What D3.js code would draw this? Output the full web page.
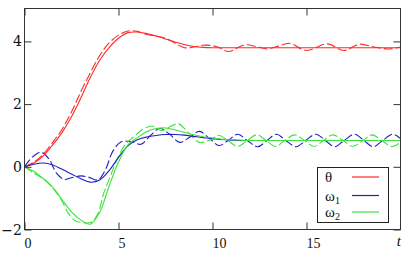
<!DOCTYPE html>
<html>
<head>
<meta charset="utf-8">
<script src="https://cdn.jsdelivr.net/npm/d3@7"></script>
<style>
  body { margin: 0; background: #fff; }
  svg { display: block; }
</style>
</head>
<body>
<div id="chart"></div>
<script>
// --- data ---
const xTicks = [0, 5, 10, 15];
const yTicks = [-2, 0, 2, 4];
const seriesNames = ["θ", "ω1", "ω2"];
const seriesColors = ["#ff2a2a", "#1e1ec8", "#3ee23e"];

// solid curves [t, value]
const thetaSolid = [[0,0],[0.5,0.12],[1,0.35],[1.5,0.7],[2,1.1],[2.5,1.6],[3,2.2],[3.5,2.85],[4,3.4],[4.5,3.8],[5,4.1],[5.5,4.28],[6,4.3],[6.5,4.25],[7,4.17],[7.5,4.08],[8,3.98],[8.5,3.9],[9,3.84],[9.5,3.81],[10,3.8],[12,3.8],[14,3.8],[16,3.8],[18,3.8],[20,3.8]];
const omega1Solid = [[0,0],[0.5,0.08],[1,0.12],[1.5,0.06],[2,-0.08],[2.5,-0.23],[3,-0.38],[3.5,-0.49],[4,-0.42],[4.5,-0.12],[5,0.3],[5.5,0.67],[6,0.86],[6.5,0.95],[7,1.0],[7.5,1.03],[8,1.03],[8.5,1.01],[9,0.97],[9.5,0.93],[10,0.9],[10.5,0.87],[11,0.85],[11.5,0.84],[14,0.84],[17,0.84],[20,0.84]];
const omega2Solid = [[0,0],[0.5,-0.15],[1,-0.38],[1.5,-0.65],[2,-1.05],[2.5,-1.44],[3,-1.7],[3.5,-1.83],[4,-1.45],[4.5,-0.62],[5,0.15],[5.5,0.7],[6,0.93],[6.5,1.12],[7,1.22],[7.5,1.24],[8,1.18],[8.5,1.1],[9,1.02],[9.5,0.96],[10,0.92],[10.5,0.88],[11,0.86],[11.5,0.85],[12,0.84],[16,0.84],[20,0.84]];

// dashed curves [t, value]
const thetaDashed = [[0,0],[0.5,0.15],[1,0.4],[1.5,0.78],[2,1.2],[2.5,1.75],[3,2.4],[3.5,3.0],[4,3.55],[4.5,3.95],[5,4.2],[5.5,4.33],[6,4.32],[6.5,4.22],[7,4.17],[7.5,4.1],[8,3.95],[8.5,3.8],[9,3.82],[9.5,3.88],[10.2,3.84],[10.85,3.68],[11.7,3.89],[12.3,3.84],[12.9,3.76],[13.5,3.85],[14.1,3.94],[15,3.71],[16.1,3.92],[17,3.71],[17.8,3.91],[18.6,3.82],[19.4,3.76],[20,3.82]];
const omega1Dashed = [[0,0],[0.4,0.3],[0.9,0.46],[1.3,0.25],[1.7,-0.2],[2.1,-0.4],[2.5,-0.35],[3,-0.29],[3.4,-0.33],[3.9,-0.42],[4.3,-0.1],[4.7,0.5],[5.15,0.8],[5.7,0.8],[6.2,0.72],[6.7,1.0],[7.2,1.22],[7.7,1.05],[8.25,0.78],[8.8,0.95],[9.3,1.13],[9.85,0.9],[10.35,0.68],[10.85,0.85],[11.35,1.04],[11.85,0.84],[12.4,0.64],[12.9,0.84],[13.4,1.04],[13.9,0.84],[14.45,0.64],[14.95,0.84],[15.5,1.04],[16,0.84],[16.5,0.64],[17,0.84],[17.55,1.04],[18.05,0.84],[18.55,0.64],[19.05,0.84],[19.6,1.04],[20,0.9]];
const omega2Dashed = [[0,0],[0.5,-0.2],[1.1,-0.42],[1.6,-0.75],[2,-1.1],[2.35,-1.5],[2.7,-1.72],[3.1,-1.78],[3.55,-1.77],[3.9,-1.5],[4.2,-0.87],[4.5,-0.4],[4.9,0.2],[5.35,0.71],[5.8,0.95],[6.3,1.2],[6.8,1.3],[7.3,1.15],[7.8,1.3],[8.2,1.37],[8.7,1.1],[9.3,0.78],[9.85,0.85],[10.35,1.0],[10.85,0.82],[11.35,0.65],[11.85,0.84],[12.35,1.02],[12.85,0.84],[13.35,0.65],[13.85,0.84],[14.35,1.02],[14.9,0.84],[15.4,0.65],[15.9,0.84],[16.4,1.02],[16.95,0.84],[17.45,0.65],[18,0.84],[18.5,1.02],[19,0.84],[19.55,0.65],[20,0.78]];

const W = 412, H = 256;
const plotLeft = 24.5, plotRight = 400.5, plotTop = 8.5, plotBottom = 229.5;
const fontA = "Liberation Serif";
const fontB = "DejaVu Serif";

const svg = d3.select("#chart").append("svg")
    .attr("width", W)
    .attr("height", H);

svg.append("rect").attr("width", W).attr("height", H).attr("fill", "#fff");

const x = d3.scaleLinear().domain([0, 20]).range([plotLeft, plotRight]);
const y = d3.scaleLinear().domain([-2, 5.05]).range([plotBottom, plotTop]);

svg.append("defs").append("clipPath").attr("id", "plot")
    .append("rect")
    .attr("x", plotLeft).attr("y", plotTop)
    .attr("width", plotRight - plotLeft).attr("height", plotBottom - plotTop);

const line = d3.line()
    .x(d => x(d[0]))
    .y(d => y(d[1]))
    .curve(d3.curveCatmullRom.alpha(0.5));

const g = svg.append("g").attr("clip-path", "url(#plot)");

const curves = [
    { data: thetaDashed, color: seriesColors[0], dashed: true },
    { data: omega1Dashed, color: seriesColors[1], dashed: true },
    { data: omega2Dashed, color: seriesColors[2], dashed: true },
    { data: thetaSolid, color: seriesColors[0], dashed: false },
    { data: omega1Solid, color: seriesColors[1], dashed: false },
    { data: omega2Solid, color: seriesColors[2], dashed: false }
];

g.selectAll("path.curve")
    .data(curves)
    .join("path")
    .attr("class", "curve")
    .attr("d", d => line(d.data))
    .attr("fill", "none")
    .attr("stroke", d => d.color)
    .attr("stroke-width", 1.1)
    .attr("stroke-dasharray", d => d.dashed ? "9,3" : null);

// frame
svg.append("rect")
    .attr("x", plotLeft).attr("y", plotTop)
    .attr("width", plotRight - plotLeft).attr("height", plotBottom - plotTop)
    .attr("fill", "none")
    .attr("stroke", "#333")
    .attr("stroke-width", 1);

// inner ticks on all four sides
const tickLen = 7;
const axisBottom = d3.axisBottom(x).tickValues(xTicks).tickSize(tickLen).tickFormat("");
const axisTop = d3.axisTop(x).tickValues(xTicks).tickSize(tickLen).tickFormat("");
const axisLeft = d3.axisLeft(y).tickValues(yTicks).tickSize(tickLen).tickFormat("");
const axisRight = d3.axisRight(y).tickValues(yTicks).tickSize(tickLen).tickFormat("");

svg.append("g").attr("transform", `translate(0,${plotBottom - tickLen})`).call(axisBottom);
svg.append("g").attr("transform", `translate(0,${plotTop + tickLen})`).call(axisTop);
svg.append("g").attr("transform", `translate(${plotLeft + tickLen},0)`).call(axisLeft);
svg.append("g").attr("transform", `translate(${plotRight - tickLen},0)`).call(axisRight);
svg.selectAll(".domain").remove();
svg.selectAll(".tick line").attr("stroke", "#333");

// tick labels
svg.append("g").selectAll("text")
    .data(xTicks)
    .join("text")
    .attr("x", d => x(d))
    .attr("y", 248)
    .style("font-family", fontA)
    .attr("font-size", 14)
    .attr("fill", "#111")
    .text(d => d);

svg.append("text")
    .attr("x", 401)
    .attr("y", 246)
    .attr("text-anchor", "end")
    .style("font-family", fontA)
    .attr("font-size", 15)
    .attr("font-style", "italic")
    .attr("fill", "#111")
    .text("t");

svg.append("g").selectAll("text")
    .data(yTicks)
    .join("text")
    .attr("x", 22)
    .attr("y", d => y(d) + 5)
    .attr("text-anchor", "end")
    .style("font-family", fontB)
    .attr("font-size", 14)
    .attr("fill", "#111")
    .text(d => d < 0 ? "\u2212" + Math.abs(d) : d);

// legend
const legend = svg.append("g");
legend.append("rect")
    .attr("x", 317.5).attr("y", 167.5)
    .attr("width", 71).attr("height", 55)
    .attr("fill", "#fff")
    .attr("stroke", "#222");

const legendY = [177, 195.5, 212];
seriesNames.forEach((name, i) => {
    const t = legend.append("text")
        .attr("x", 325)
        .attr("y", legendY[i] + 5)
        .style("font-family", fontA)
        .attr("font-size", 15)
        .attr("fill", "#111");
    if (name.length > 1) {
        t.append("tspan").text(name[0]);
        t.append("tspan").attr("font-size", 10).attr("dy", 3).text(name.slice(1));
    } else {
        t.text(name);
    }
    legend.append("line")
        .attr("x1", 352).attr("x2", 379)
        .attr("y1", legendY[i]).attr("y2", legendY[i])
        .attr("stroke", seriesColors[i])
        .attr("stroke-width", 1.2);
});
</script>
</body>
</html>
